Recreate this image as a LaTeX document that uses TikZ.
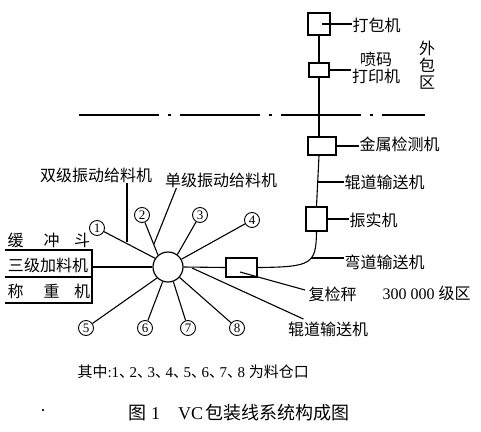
\documentclass[tikz,border=0pt]{standalone}
\usepackage{fontspec}
\setmainfont{Liberation Serif}
\newfontfamily\cjk{Noto Sans CJK SC}
\newcommand\dunhao{{\cjk 、}\hspace{-0.3em}}
\begin{document}
\begin{tikzpicture}[x=1pt,y=-1pt,
  line width=1.1pt,
  lbl/.style={font=\cjk\fontsize{16}{17}\selectfont, inner sep=0pt, align=center},
  boxn/.style={draw, line width=1.6pt, inner sep=0pt},
  num/.style={draw, circle, line width=0.9pt, inner sep=0pt, minimum size=15pt, font=\fontsize{13}{13}\selectfont},
  hubn/.style={draw, circle, line width=1.2pt, inner sep=0pt, minimum size=30pt}
]
\useasboundingbox (0,0) rectangle (481,431);

% ---- upper column of machines
\node[boxn, minimum width=22pt, minimum height=22pt] (b1) at (319,24) {};
\node[boxn, minimum width=20pt, minimum height=14pt] (b2) at (319,70) {};
\node[boxn, minimum width=28pt, minimum height=18pt] (b3) at (322,146) {};
\node[boxn, minimum width=21pt, minimum height=24pt] (b4) at (316.5,219) {};
\node[boxn, minimum width=31pt, minimum height=19pt] (b5) at (241.5,267.5) {};

\node[lbl, anchor=west] (t1) at (352,25) {打包机};
\node[lbl] (t2) at (376,68) {喷码\\打印机};
\node[lbl] (t3) at (427,65) {外\\包\\区};
\node[lbl, anchor=west] (t4) at (359,144) {金属检测机};
\node[lbl, anchor=west] (t5) at (344,182) {辊道输送机};
\node[lbl, anchor=west] (t6) at (349,220) {振实机};
\node[lbl, anchor=west] (t7) at (344,262) {弯道输送机};
\node[lbl, anchor=west] (t8) at (308,294) {复检秤};
\node[anchor=west, inner sep=0pt, font=\fontsize{16}{17}\selectfont] (t9) at (382,293) {300 000 {\cjk 级区}};
\node[lbl] (t10) at (328,329) {辊道输送机};

\draw ([xshift=3pt]b1.center) -- (t1.west |- b1.center);
\draw (b2.east) -- (b2.east -| t2.west);
\draw (b1.south) -- (b2.north);
\draw (b2.south) -- (b3.north -| b2.south);
\draw (b3.east) -- (b3.east -| t4.west);
\draw (b3.south -| b2.south) -- (b4.north);
\coordinate (r1) at (318,182);
\draw (r1) -- (t5.west);
\draw (b4.east) -- (b4.east -| t6.west);
\draw (b4.south) .. controls (316,264) and (312,267) .. (b5.east);
\coordinate (c1) at (311,258);
\draw (c1) -- (c1 -| t7.west);
\coordinate (k1) at (240,272);
\draw (k1) -- ([shift={(-3,-4)}]t8.west);

% dash-dot zone border
\coordinate (dl) at (79,115);
\coordinate (dr) at (425,115);
\draw[line width=1.2pt, dash pattern=on 80pt off 9pt on 3pt off 9pt] (dl) -- (dr);

% ---- hub and spokes
\node[hubn] (hub) at (168,267) {};
\draw (hub.east) -- (b5.west);
\coordinate (r2) at (192,268);
\draw (r2) -- ([shift={(16,-2)}]t10.north west);

\node[num] (n1) at (97,228) {1};
\node[num] (n2) at (142,215) {2};
\node[num] (n3) at (200,215) {3};
\node[num] (n4) at (252,220) {4};
\node[num] (n5) at (86,328) {5};
\node[num] (n6) at (145,328) {6};
\node[num] (n7) at (188,328) {7};
\node[num] (n8) at (237,328) {8};
\draw (n1) -- (hub.146);
\draw (n2) -- (hub.130);
\draw (n3) -- (hub.53);
\draw (n4) -- (hub.30);
\draw (n5) -- (hub.225);
\draw (n6) -- (hub.250);
\draw (n7) -- (hub.290);
\draw (n8) -- (hub.318);

\node[lbl] (t11) at (96,175) {双级振动给料机};
\coordinate (d1) at (127,242);
\draw (d1 |- t11.south) -- (d1);
\node[lbl] (t12) at (221,180) {单级振动给料机};
\coordinate (j1) at (154,244);
\draw ([xshift=12pt]t12.south west) -- (j1);

% ---- left feeder box
\draw (5,250) -- (92,250) -- (92,303) -- (5,303);
\draw (5,277) -- (92,277);
\coordinate (lb) at (92,267);
\draw (lb) -- (hub.west);
\node[lbl] (a1) at (15.5,240) {缓};
\node[lbl] (a2) at (51.5,240) {冲};
\node[lbl] (a3) at (82,240) {斗};
\node[lbl] (a4) at (48,265) {三级加料机};
\node[lbl] (a5) at (15.5,291) {称};
\node[lbl] (a6) at (51.5,291) {重};
\node[lbl] (a7) at (82,291) {机};

% ---- notes and caption
\node[anchor=west, inner sep=0pt, font=\fontsize{15}{17}\selectfont] (note) at (77,372)
  {{\cjk 其中}:1\dunhao 2\dunhao 3\dunhao 4\dunhao 5\dunhao 6\dunhao 7\dunhao 8 {\cjk 为料仓口}};
\node[anchor=west, inner sep=0pt, font=\fontsize{18}{20}\selectfont] (cap) at (128,413)
  {{\cjk 图} 1\quad VC\hspace{2pt}{\cjk 包装线系统构成图}};
\node[inner sep=0pt, font=\fontsize{18}{17}\selectfont] (dot) at (43,413) {·};
\end{tikzpicture}
\end{document}
